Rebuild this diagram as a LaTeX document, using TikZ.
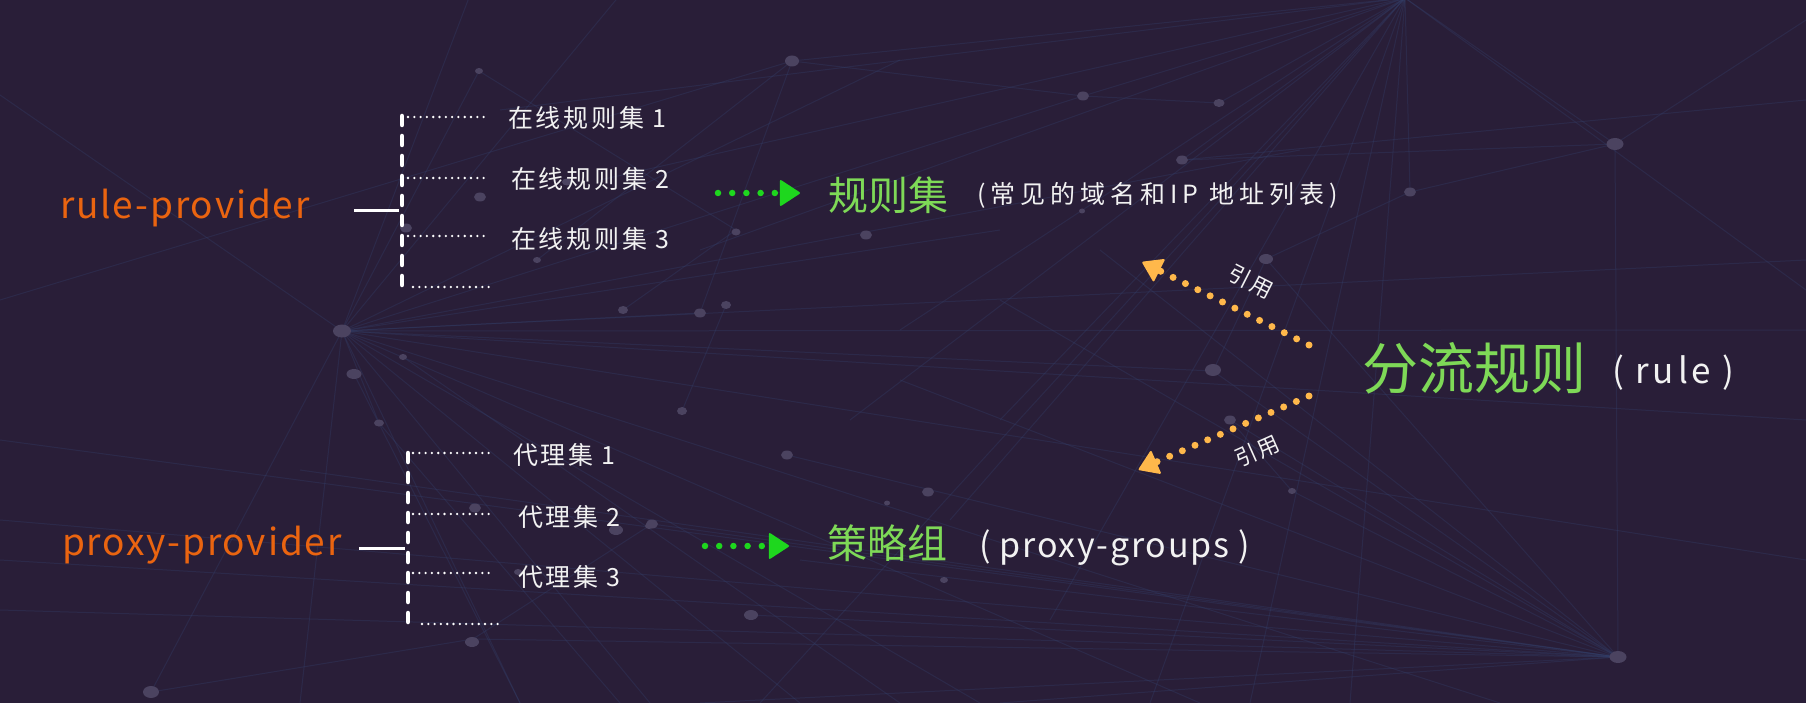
\documentclass[tikz,border=0pt]{standalone}
\usepackage{fontspec}
\setmainfont{Noto Sans CJK SC}
\newfontfamily\lsfont[LetterSpace=11]{Noto Sans CJK SC}
\newfontfamily\lsorange[LetterSpace=5]{Noto Sans CJK SC}
\newfontfamily\lsgroups[LetterSpace=5]{Noto Sans CJK SC}
\newfontfamily\lswide[LetterSpace=20]{Noto Sans CJK SC}
\usetikzlibrary{arrows.meta}
\definecolor{bg}{HTML}{291E38}
\definecolor{netC}{HTML}{34426E}
\definecolor{dotC}{HTML}{4B4360}
\definecolor{orangeT}{HTML}{EA6410}
\definecolor{greenT}{HTML}{7ED957}
\definecolor{whiteT}{HTML}{F2F2F2}
\definecolor{arrG}{HTML}{1ED71E}
\definecolor{arrO}{HTML}{FFB84B}
\begin{document}
\begin{tikzpicture}[x=1pt,y=-1pt,
  txt/.style={inner sep=0pt, outer sep=0pt},
  orangetxt/.style={txt, text=orangeT, font=\lsorange\fontsize{37}{44}\selectfont, anchor=base west},
  labeltxt/.style={txt, text=whiteT, font=\lsfont\fontsize{25}{30}\selectfont, anchor=west},
  greentxt/.style={txt, text=greenT, font=\fontsize{40}{48}\selectfont, anchor=west},
  widetxt/.style={txt, text=whiteT, font=\lswide\fontsize{25}{30}\selectfont, anchor=west},
  groupstxt/.style={txt, text=whiteT, font=\lsgroups\fontsize{34}{40}\selectfont, anchor=base west},
  latintxt/.style={txt, text=whiteT, font=\lsfont\fontsize{35}{42}\selectfont, anchor=base west},
  bigtxt/.style={txt, text=greenT, font=\fontsize{56}{64}\selectfont, anchor=west},
  reftxt/.style={txt, text=whiteT, font=\lsfont\fontsize{22}{26}\selectfont},
  bracket/.style={draw=white, line width=4.5pt, dash pattern=on 9pt off 11pt, line cap=round},
  stub/.style={draw=white, line width=3pt},
  dotw/.style={draw=white, line width=2.6pt, line cap=round, dash pattern=on 0pt off 6.3pt},
  garrow/.style={draw=arrG, line width=6.5pt, line cap=round, dash pattern=on 0pt off 14.2pt,
    -{Triangle[length=21pt,width=27pt,round,line width=2pt]}},
  oarrow/.style={draw=arrO, line width=7pt, line cap=round, dash pattern=on 0pt off 13.8pt,
    -{Triangle[length=20pt,width=26pt,round,line width=2pt,sep=16pt]}},
  net/.style={draw=netC, line width=1pt, opacity=0.32},
  netdot/.style={fill=dotC}
]
\useasboundingbox (0,0) rectangle (1806,703);
\fill[bg] (0,0) rectangle (1806,703);

% ---- background network ----
\foreach \x/\y in {0/95,470/-5,620/-5,900/60,1083/96,1300/150,1806/260,1806/330,1806/420,1500/703,1200/703,980/703,800/703,650/703,520/703,300/703,151/692,379/423,1213/371,1000/230,700/313,1806/560}
  \draw[net] (342,331) -- (\x,\y);
\foreach \x/\y in {0/440,0/520,0/610,300/470,473/639,652/524,751/615,787/455,900/380,1000/300,1100/250,1213/371,1230/420,1292/491,1266/259,1615/144,1000/703,700/703,0/560,800/560}
  \draw[net] (1618,657) -- (\x,\y);
\foreach \x/\y in {1806/290,1615/144,1410/192,1182/160,1083/96,900/330,850/420,950/520,1050/620,1150/703,1250/703,1350/703,700/250,600/180,500/110,792/61,1219/103,1000/420,760/703}
  \draw[net] (1405,-2) -- (\x,\y);
\foreach \a/\b/\c/\d in {792/61/1083/96,792/61/700/313,792/61/537/260,1083/96/1219/103,1615/144/1410/192,1615/144/1182/160,1410/192/1266/259,1213/371/1266/259,1230/420/1292/491,736/230/623/310,726/305/682/411,652/524/473/639,151/692/473/639,354/374/520/703,379/423/620/703,403/357/900/703,479/71/736/230,479/71/342/331,0/300/792/61,1182/160/1806/100,1615/144/1806/20}
  \draw[net] (\a,\b) -- (\c,\d);
\foreach \x/\y/\rx/\ry in {342/331/9/6.5,354/374/7.5/5,403/357/4/3,379/423/5/3.5,1618/657/8.5/6,1615/144/8.5/6,1410/192/6/4.5,1182/160/6/4.5,1083/96/6/4.5,1219/103/5.5/4,792/61/7/5.5,1266/259/7/5,1213/370/8/6,1230/420/6/4.5,1292/491/4/3,1082/211/3/2.5,479/71/4/3,726/305/5/4,700/313/6/4.5,623/310/5/4,736/232/4.5/3.5,537/260/4/3,406/228/6/4.5,480/197/6/4.5,787/455/6/4.5,682/411/5/4,652/524/6/4.5,751/615/7/5,472/642/7/5,151/692/8/6,475/508/6/4.5,616/530/7/5,649/526/4/3,866/235/6/4.5,928/492/6/4.5,887/503/3/2.5,944/580/4/3,567/182/5/3.5,518/572/4/3}
  \fill[netdot] (\x,\y) ellipse [x radius=\rx, y radius=\ry];

% ---- texts ----
\node[orangetxt] (rp) at (60,219) {rule-provider};
\node[orangetxt] (pp) at (62,555) {proxy-provider};

\node[labeltxt] (r1) at (508,118) {在线规则集 1};
\node[labeltxt] (r2) at (511,179) {在线规则集 2};
\node[labeltxt] (r3) at (511,239) {在线规则集 3};

\node[labeltxt] (p1) at (513,455) {代理集 1};
\node[labeltxt] (p2) at (518,517) {代理集 2};
\node[labeltxt] (p3) at (518,577) {代理集 3};

\node[greentxt] (rs) at (828,195) {规则集};
\node[widetxt] (rsd) at (977,195) {(常见的域名和IP 地址列表)};
\node[greentxt] (pg) at (827,543) {策略组};
\node[groupstxt] (pgd) at (979,557) {( proxy-groups )};
\node[bigtxt] (fl) at (1362,368) {分流规则};
\node[latintxt] (flr) at (1612,383) {( rule )};

\node[reftxt, rotate=-27] (y1) at (1251,282) {引用};
\node[reftxt, rotate=24] (y2) at (1257,451) {引用};

% ---- rule-provider bracket ----
\coordinate (rs0) at (354,211);
\coordinate (rs1) at (399,211);
\coordinate (rt) at (402,116);
\coordinate (rb) at (402,289);
\coordinate (rd1) at (408,117);
\coordinate (rd2) at (408,178);
\coordinate (rd3) at (408,236);
\coordinate (rd4) at (413,287);
\coordinate (rd4e) at (493,287);
\draw[stub] (rs0) -- (rs1);
\draw[bracket] (rt) -- (rb);
\draw[dotw, shorten >=21pt] (rd1) -- (rd1 -| r1.west);
\draw[dotw, shorten >=24pt] (rd2) -- (rd2 -| r2.west);
\draw[dotw, shorten >=24pt] (rd3) -- (rd3 -| r3.west);
\draw[dotw] (rd4) -- (rd4e);

% ---- proxy-provider bracket ----
\coordinate (ps0) at (359,548);
\coordinate (ps1) at (405,548);
\coordinate (pt) at (408,453);
\coordinate (pb) at (408,625);
\coordinate (pd1) at (413,453);
\coordinate (pd2) at (413,514);
\coordinate (pd3) at (413,573);
\coordinate (pd4) at (422,624);
\coordinate (pd4e) at (500,624);
\draw[stub] (ps0) -- (ps1);
\draw[bracket] (pt) -- (pb);
\draw[dotw, shorten >=20pt] (pd1) -- (pd1 -| p1.west);
\draw[dotw, shorten >=25pt] (pd2) -- (pd2 -| p2.west);
\draw[dotw, shorten >=25pt] (pd3) -- (pd3 -| p3.west);
\draw[dotw] (pd4) -- (pd4e);

% ---- green arrows ----
\coordinate (g1) at (718,193);
\coordinate (g2) at (705,546);
\draw[garrow, shorten >=28pt] (g1) -- (rs.west |- g1);
\draw[garrow, shorten >=38pt] (g2) -- (pg.west |- g2);

% ---- orange arrows ----
\coordinate (o1s) at (1309,345);
\coordinate (o1e) at (1128,255);
\coordinate (o2s) at (1309,396);
\coordinate (o2e) at (1124,476);
\draw[oarrow] (o1s) -- (o1e);
\draw[oarrow] (o2s) -- (o2e);
\end{tikzpicture}
\end{document}
